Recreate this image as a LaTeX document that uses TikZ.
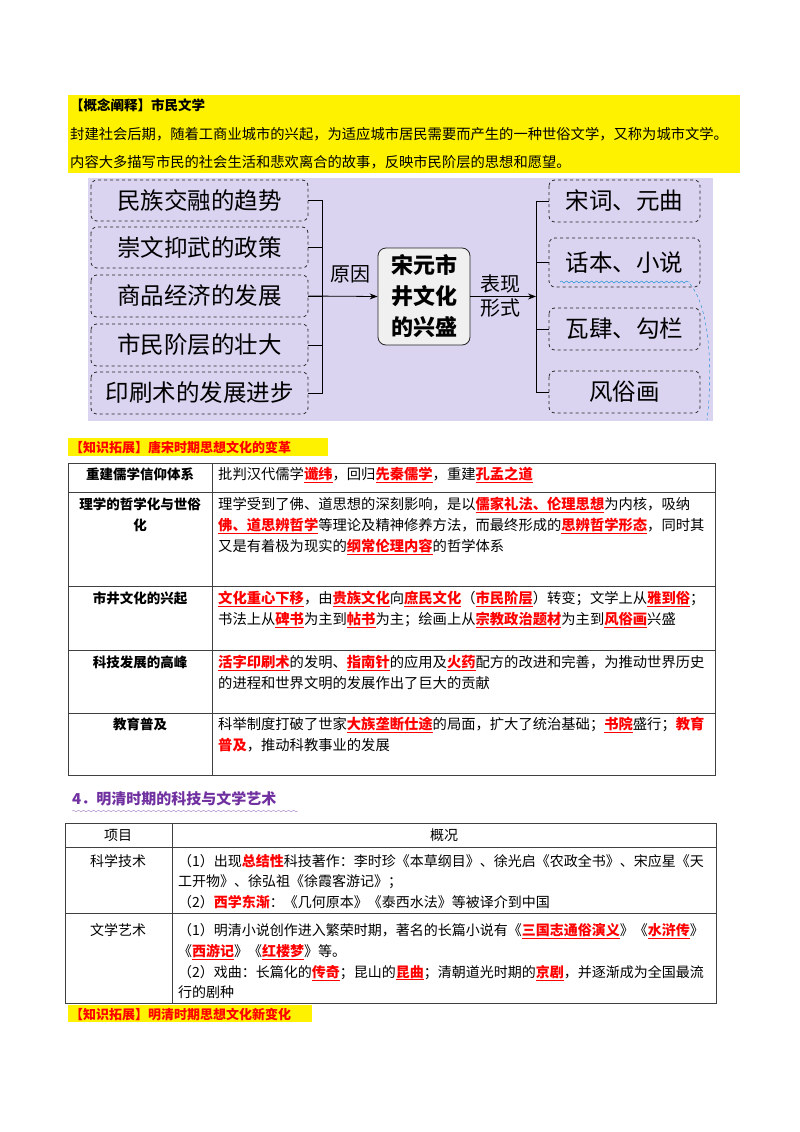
\documentclass[tikz,border=0pt]{standalone}
\usepackage{fontspec}
\setmainfont{Noto Sans CJK SC}
\usetikzlibrary{decorations.pathmorphing,arrows.meta}
\definecolor{lav}{RGB}{218,212,240}
\definecolor{purp}{RGB}{112,48,160}
\newcommand{\Rd}[1]{\textcolor{red}{\underline{\textbf{#1}}}}
\newcommand{\Rn}[1]{\textcolor{red}{\textbf{#1}}}
\begin{document}
\begin{tikzpicture}[x=1pt,y=-1pt,
  dbox/.style={draw=black!85,dashed,thick,rounded corners=6pt},
  big/.style={font=\fontsize{23.5}{26}\selectfont},
  tx/.style={anchor=base west,inner sep=0pt,font=\fontsize{13.5}{16}\selectfont},
  tb/.style={anchor=base,inner sep=0pt,font=\fontsize{13.5}{16}\selectfont\bfseries},
  grid/.style={draw=black!75,line width=0.8pt}]
\useasboundingbox (0,0) rectangle (800,1132);
% yellow box
\fill[yellow] (68,95) rectangle (740,173);
\node[tx,font=\fontsize{13.5}{16}\selectfont\bfseries] (y1) at (70,110) {【概念阐释】市民文学};
\node[tx,font=\fontsize{14.3}{16}\selectfont] (y2) at (70,139) {封建社会后期，随着工商业城市的兴起，为适应城市居民需要而产生的一种世俗文学，又称为城市文学。};
\node[tx,font=\fontsize{14.3}{16}\selectfont] (y3) at (70,167) {内容大多描写市民的社会生活和悲欢离合的故事，反映市民阶层的思想和愿望。};
% lavender diagram
\fill[lav] (88,178) rectangle (713,421);
\foreach \n/\a/\b/\t in {L1/180/221/民族交融的趋势,L2/227/268/崇文抑武的政策,L3/275/317/商品经济的发展,L4/324/366/市民阶层的壮大,L5/372/414/印刷术的发展进步}{
  \draw[dbox] (91,\a) rectangle (308,\b);
  \node[big] (\n) at (199.5,{(\a+\b)/2}) {\t};
  \coordinate (\n e) at (308,{(\a+\b)/2});
}
\foreach \n/\a/\b/\t in {R1/180/222/宋词、元曲,R2/238/287/话本、小说,R3/308/350/瓦肆、勾栏,R4/371/413/风俗画}{
  \draw[dbox] (549,\a) rectangle (700,\b);
  \node[big] (\n) at (624.5,{(\a+\b)/2}) {\t};
  \coordinate (\n w) at (549,{(\a+\b)/2});
}
\node[draw=black!85,thick,rounded corners=8pt,fill=black!6,minimum width=92pt,minimum height=97pt,align=center,
  font=\fontsize{22}{31}\selectfont\bfseries] (C) at (424,296.5) {宋元市\\井文化\\的兴盛};
\coordinate (lb) at (322,296.5);
\coordinate (rb) at (536,296.5);
\foreach \n in {L1,L2,L3,L4,L5}{\draw[thick] (\n e) -| (lb);}
\draw[thick,-{Stealth[length=8pt]}] (L3e) -- (C.west);
\foreach \n in {R1,R2,R3,R4}{\draw[thick] (\n w) -| (rb);}
\draw[thick,-{Stealth[length=8pt]}] (C.east) -- (rb);
\node[font=\fontsize{20}{22}\selectfont] (yy) at (350,274) {原因};
\node[font=\fontsize{20}{24}\selectfont,align=center] (bx) at (500,296) {表现\\形式};
\draw[cyan!70!blue,decorate,decoration={snake,amplitude=1pt,segment length=5pt}] (560,282) -- (690,282);
\draw[cyan!70!blue,dashed] (690,284) .. controls (712,310) and (712,380) .. (707,420);
% table 1
\fill[yellow] (68,438) rectangle (328,456);
\node[tx,font=\fontsize{13}{16}\selectfont\bfseries,text=red] (k1) at (70,452) {【知识拓展】唐宋时期思想文化的变革};
\draw[grid] (68,463) rectangle (715,775);
\draw[grid] (212,463) -- (212,775);
\foreach \y in {492,586,650,713}{\draw[grid] (68,\y) -- (715,\y);}
\node[tb] (a1) at (140,479) {重建儒学信仰体系};
\node[tb] (a2) at (140,509) {理学的哲学化与世俗};
\node[tb] (a2b) at (140,530) {化};
\node[tb] (a3) at (140,603) {市井文化的兴起};
\node[tb] (a4) at (140,667) {科技发展的高峰};
\node[tb] (a5) at (140,729) {教育普及};
\begin{scope}[every node/.style={tx,font=\fontsize{14.3}{16}\selectfont}]
\node (b1) at (218,479) {批判汉代儒学\Rd{谶纬}，回归\Rd{先秦儒学}，重建\Rd{孔孟之道}};
\node (b2) at (218,509) {理学受到了佛、道思想的深刻影响，是以\Rd{儒家礼法、伦理思想}为内核，吸纳};
\node (b3) at (218,530) {\Rd{佛、道思辨哲学}等理论及精神修养方法，而最终形成的\Rd{思辨哲学形态}，同时其};
\node (b4) at (218,551) {又是有着极为现实的\Rd{纲常伦理内容}的哲学体系};
\node (b5) at (218,603) {\Rd{文化重心下移}，由\Rd{贵族文化}向\Rd{庶民文化}（\Rd{市民阶层}）转变；文学上从\Rd{雅到俗}；};
\node (b6) at (218,624) {书法上从\Rd{碑书}为主到\Rd{帖书}为主；绘画上从\Rd{宗教政治题材}为主到\Rd{风俗画}兴盛};
\node (b7) at (218,667) {\Rd{活字印刷术}的发明、\Rd{指南针}的应用及\Rd{火药}配方的改进和完善，为推动世界历史};
\node (b8) at (218,688) {的进程和世界文明的发展作出了巨大的贡献};
\node (b9) at (218,729) {科举制度打破了世家\Rd{大族垄断仕途}的局面，扩大了统治基础；\Rd{书院}盛行；\Rn{教育}};
\node (b10) at (218,750) {\Rn{普及}，推动科教事业的发展};
\end{scope}
% heading
\node[tx,font=\fontsize{15}{18}\selectfont\bfseries,text=purp] (h4) at (72,804) {4．明清时期的科技与文学艺术};
\draw[purp!60,decorate,decoration={snake,amplitude=0.8pt,segment length=5pt}] (72,811) -- (298,811);
% table 2
\draw[grid] (65,823) rectangle (716,1003);
\draw[grid] (172,823) -- (172,1003);
\foreach \y in {847,913}{\draw[grid] (65,\y) -- (716,\y);}
\begin{scope}[every node/.style={tx,font=\fontsize{14}{16}\selectfont}]
\node[anchor=base] (c0) at (118,840) {项目};
\node[anchor=base] (d0) at (444,840) {概况};
\node[anchor=base] (c1) at (118,866) {科学技术};
\node[anchor=base] (c2) at (118,935) {文学艺术};
\node (d1) at (178,866) {（1）出现\Rn{总结性}科技著作：李时珍《本草纲目》、徐光启《农政全书》、宋应星《天};
\node (d2) at (178,886) {工开物》、徐弘祖《徐霞客游记》；};
\node (d3) at (178,907) {（2）\Rn{西学东渐}：《几何原本》《泰西水法》等被译介到中国};
\node (d4) at (178,935) {（1）明清小说创作进入繁荣时期，著名的长篇小说有《\Rd{三国志通俗演义}》《\Rd{水浒传}》};
\node (d5) at (178,956) {《\Rd{西游记}》《\Rd{红楼梦}》等。};
\node (d6) at (178,977) {（2）戏曲：长篇化的\Rd{传奇}；昆山的\Rd{昆曲}；清朝道光时期的\Rd{京剧}，并逐渐成为全国最流};
\node (d7) at (178,997) {行的剧种};
\end{scope}
\fill[yellow] (68,1005) rectangle (312,1022);
\node[tx,font=\fontsize{13}{16}\selectfont\bfseries,text=red] (k2) at (70,1019) {【知识拓展】明清时期思想文化新变化};
\end{tikzpicture}
\end{document}
